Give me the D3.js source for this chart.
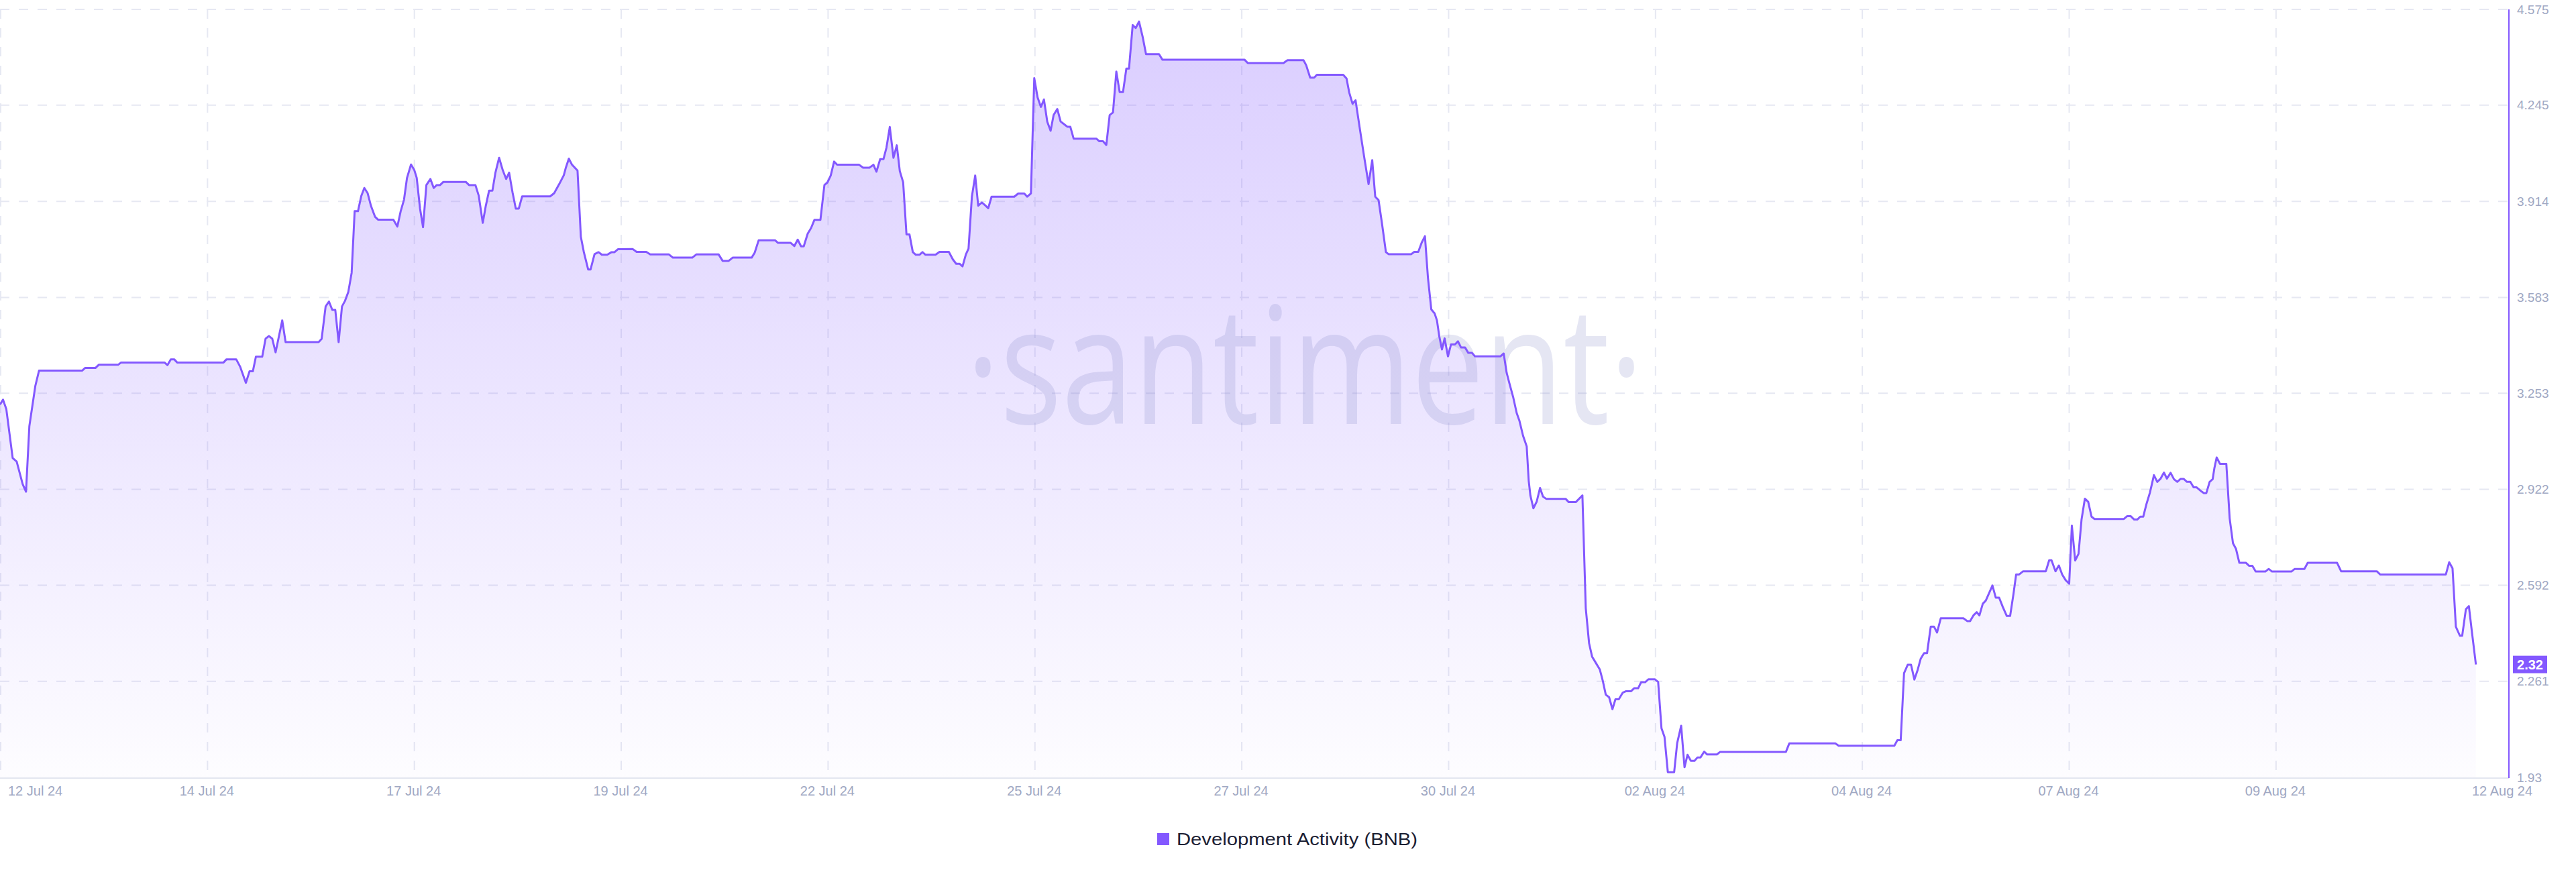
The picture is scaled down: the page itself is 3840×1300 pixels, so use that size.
<!DOCTYPE html>
<html><head><meta charset="utf-8">
<script src="https://cdn.jsdelivr.net/npm/d3@7"></script>
<style>body{margin:0;background:#fff;} svg{display:block}</style>
</head><body>
<svg id="c" width="3840" height="1300"></svg>
<script>
// [hours since 12 Jul 24 00:00, development activity]
const devActivity = [[0.0,3.214],[0.9,3.231],[1.9,3.198],[3.8,3.030],[5.0,3.018],[6.8,2.940],[7.8,2.914],[8.8,3.140],[10.6,3.279],[11.7,3.331],[24.6,3.331],[25.5,3.340],[28.6,3.340],[29.6,3.351],[35.4,3.351],[36.3,3.359],[49.3,3.359],[50.2,3.350],[51.2,3.370],[52.2,3.370],[53.1,3.359],[67.0,3.359],[67.9,3.370],[70.8,3.370],[72.0,3.344],[73.7,3.289],[74.8,3.329],[75.8,3.329],[76.7,3.379],[78.6,3.379],[79.6,3.441],[80.6,3.450],[81.6,3.441],[82.6,3.394],[84.6,3.504],[85.6,3.429],[95.5,3.429],[96.4,3.440],[97.6,3.552],[98.6,3.569],[99.6,3.540],[100.5,3.540],[101.5,3.429],[102.5,3.552],[103.4,3.571],[104.4,3.602],[105.4,3.668],[106.3,3.880],[107.3,3.880],[108.3,3.933],[109.2,3.960],[110.2,3.942],[111.2,3.898],[112.4,3.861],[113.3,3.851],[117.9,3.851],[119.1,3.827],[120.1,3.880],[121.1,3.920],[122.0,3.995],[123.2,4.041],[124.2,4.021],[124.9,3.995],[125.9,3.889],[126.8,3.825],[127.8,3.970],[129.0,3.991],[130.0,3.960],[130.9,3.970],[131.9,3.970],[132.9,3.981],[139.6,3.981],[140.6,3.970],[142.5,3.970],[143.5,3.933],[144.7,3.840],[145.6,3.898],[146.6,3.951],[147.6,3.951],[148.5,4.013],[149.6,4.064],[150.7,4.021],[151.7,3.991],[152.6,4.013],[153.6,3.946],[154.6,3.889],[155.5,3.889],[156.5,3.931],[164.9,3.931],[166.1,3.942],[167.6,3.973],[169.0,4.004],[169.6,4.030],[170.5,4.061],[171.4,4.041],[173.1,4.020],[174.1,3.792],[175.0,3.739],[176.3,3.679],[177.0,3.679],[178.2,3.732],[179.4,3.739],[180.4,3.730],[182.0,3.730],[183.3,3.739],[184.2,3.739],[185.2,3.749],[189.6,3.750],[190.8,3.740],[193.7,3.740],[194.9,3.731],[200.5,3.731],[201.7,3.720],[207.5,3.720],[208.7,3.731],[215.4,3.731],[216.6,3.709],[218.4,3.709],[219.6,3.720],[225.3,3.720],[226.2,3.737],[227.4,3.780],[232.3,3.780],[233.2,3.771],[237.0,3.771],[238.1,3.760],[239.1,3.782],[240.1,3.759],[240.9,3.759],[242.1,3.803],[243.1,3.822],[244.1,3.850],[245.9,3.850],[247.1,3.970],[248.0,3.979],[249.0,4.003],[250.0,4.051],[250.9,4.040],[257.5,4.040],[258.7,4.030],[260.6,4.030],[261.8,4.040],[262.7,4.016],[263.8,4.059],[264.8,4.059],[265.7,4.099],[266.7,4.170],[267.8,4.064],[268.8,4.107],[269.7,4.018],[270.7,3.980],[271.7,3.800],[272.6,3.800],[273.6,3.739],[274.5,3.730],[275.6,3.730],[276.5,3.739],[277.4,3.730],[280.4,3.730],[281.6,3.740],[284.4,3.740],[285.6,3.714],[286.6,3.699],[287.6,3.699],[288.5,3.690],[289.5,3.731],[290.3,3.751],[291.3,3.930],[292.3,4.003],[293.2,3.899],[294.3,3.910],[295.3,3.900],[296.2,3.890],[297.2,3.930],[304.0,3.930],[305.2,3.941],[307.0,3.941],[307.9,3.930],[309.0,3.941],[310.0,4.338],[311.0,4.272],[312.0,4.239],[312.9,4.265],[313.9,4.188],[314.9,4.157],[315.8,4.211],[316.9,4.232],[317.9,4.189],[318.9,4.180],[319.9,4.171],[320.8,4.171],[321.8,4.130],[328.6,4.130],[329.5,4.121],[330.6,4.121],[331.6,4.108],[332.6,4.211],[333.6,4.220],[334.6,4.361],[335.6,4.290],[336.6,4.290],[337.6,4.371],[338.4,4.371],[339.5,4.521],[340.4,4.511],[341.4,4.533],[342.5,4.480],[343.5,4.421],[347.4,4.421],[348.4,4.402],[373.0,4.402],[374.0,4.390],[384.7,4.390],[385.9,4.400],[390.7,4.400],[391.5,4.383],[392.7,4.340],[393.9,4.340],[394.7,4.350],[402.6,4.350],[403.6,4.337],[404.4,4.289],[405.4,4.250],[406.3,4.262],[407.6,4.163],[408.8,4.073],[410.2,3.973],[411.3,4.056],[412.2,3.930],[413.2,3.918],[414.2,3.840],[415.4,3.739],[416.2,3.732],[423.0,3.732],[423.9,3.740],[425.1,3.740],[426.1,3.771],[427.1,3.794],[428.0,3.651],[429.0,3.542],[430.0,3.528],[430.7,3.504],[431.4,3.449],[432.2,3.404],[433.0,3.442],[434.0,3.380],[434.9,3.421],[436.1,3.421],[437.0,3.432],[437.9,3.411],[439.1,3.411],[440.1,3.392],[441.2,3.392],[442.1,3.380],[449.7,3.380],[450.7,3.390],[451.6,3.323],[452.4,3.288],[453.6,3.237],[454.6,3.185],[455.4,3.159],[456.5,3.107],[457.6,3.070],[458.2,2.952],[458.7,2.901],[459.6,2.857],[460.6,2.880],[461.6,2.927],[462.5,2.897],[463.5,2.889],[469.3,2.889],[470.2,2.878],[472.3,2.878],[474.3,2.901],[475.3,2.513],[476.3,2.392],[477.2,2.346],[478.4,2.323],[479.5,2.302],[480.4,2.263],[481.3,2.215],[482.3,2.206],[483.3,2.165],[484.2,2.199],[485.2,2.199],[486.4,2.222],[487.4,2.227],[488.9,2.227],[489.8,2.237],[491.0,2.237],[491.9,2.258],[493.1,2.258],[494.1,2.268],[496.0,2.268],[497.0,2.259],[498.0,2.099],[498.9,2.070],[499.9,1.948],[501.8,1.948],[502.7,2.048],[503.9,2.108],[504.9,1.965],[505.8,2.008],[506.8,1.987],[507.9,1.987],[508.8,1.999],[509.7,1.999],[510.8,2.019],[511.7,2.009],[514.6,2.009],[515.6,2.018],[535.3,2.018],[536.3,2.047],[550.1,2.047],[551.1,2.039],[567.8,2.039],[568.7,2.058],[569.7,2.058],[570.7,2.289],[571.8,2.318],[572.8,2.318],[573.8,2.267],[574.8,2.301],[575.7,2.339],[576.7,2.358],[577.6,2.358],[578.7,2.449],[579.7,2.449],[580.6,2.429],[581.7,2.478],[588.5,2.478],[589.7,2.468],[590.5,2.468],[591.5,2.488],[592.5,2.499],[593.3,2.488],[594.3,2.528],[595.2,2.539],[596.4,2.570],[597.2,2.591],[598.2,2.549],[599.2,2.549],[600.3,2.517],[601.5,2.486],[602.5,2.486],[603.5,2.562],[604.3,2.629],[605.2,2.629],[606.4,2.640],[613.2,2.640],[614.2,2.678],[614.9,2.678],[616.1,2.640],[617.1,2.660],[618.1,2.629],[619.1,2.610],[620.2,2.597],[621.0,2.797],[622.0,2.677],[623.0,2.700],[623.9,2.818],[624.9,2.890],[625.9,2.879],[626.9,2.828],[627.8,2.820],[636.6,2.820],[637.6,2.830],[638.6,2.830],[639.7,2.818],[640.6,2.818],[641.5,2.828],[642.4,2.828],[643.3,2.869],[644.4,2.911],[645.6,2.971],[646.6,2.948],[647.6,2.959],[648.6,2.980],[649.5,2.959],[650.6,2.979],[651.6,2.957],[652.6,2.948],[653.6,2.958],[654.5,2.958],[655.5,2.948],[656.5,2.948],[657.5,2.929],[658.4,2.929],[659.6,2.917],[660.6,2.909],[661.3,2.909],[662.3,2.948],[663.2,2.957],[663.7,2.994],[664.4,3.032],[665.4,3.010],[667.3,3.010],[668.3,2.822],[669.3,2.736],[670.2,2.717],[671.2,2.669],[673.2,2.669],[674.1,2.659],[675.1,2.659],[676.1,2.639],[679.0,2.639],[680.0,2.648],[681.0,2.639],[686.8,2.639],[687.8,2.648],[690.7,2.648],[691.7,2.669],[700.5,2.669],[701.7,2.640],[712.4,2.640],[713.4,2.629],[733.1,2.629],[734.1,2.671],[735.1,2.650],[736.1,2.449],[737.3,2.418],[738.0,2.418],[739.1,2.509],[740.0,2.520],[740.9,2.432],[742.1,2.319]];

const yTicks = [4.575, 4.245, 3.914, 3.583, 3.253, 2.922, 2.592, 2.261, 1.93];
const xTickLabels = ["12 Jul 24","14 Jul 24","17 Jul 24","19 Jul 24","22 Jul 24","25 Jul 24","27 Jul 24","30 Jul 24","02 Aug 24","04 Aug 24","07 Aug 24","09 Aug 24","12 Aug 24"];
const xTickHours = [0, 62, 124, 186, 248, 310, 372, 434, 496, 558, 620, 682, 750];
const seriesName = "Development Activity (BNB)";

const purple = "#8358ff";
const axisText = "#a0a8c3";
const gridCol = "#e6e8f2";

const svg = d3.select("#c");
const plot = {left: 0, right: 3740, top: 14, bottom: 1159};
const x = d3.scaleLinear().domain([0, 752]).range([plot.left, plot.right]);
const y = d3.scaleLinear().domain([1.93, 4.575]).range([plot.bottom, plot.top]);

const defs = svg.append("defs");
const grad = defs.append("linearGradient").attr("id","fillGrad")
  .attr("gradientUnits","userSpaceOnUse").attr("x1",0).attr("x2",0)
  .attr("y1",plot.top).attr("y2",plot.bottom);
grad.append("stop").attr("offset","0").attr("stop-color",purple).attr("stop-opacity",0.3);
grad.append("stop").attr("offset","1").attr("stop-color",purple).attr("stop-opacity",0.015);

// grid
const grid = svg.append("g");
grid.selectAll("line.h").data(yTicks.filter(v => v !== 1.93)).join("line")
  .attr("x1", plot.left).attr("x2", plot.right)
  .attr("y1", d => y(d)).attr("y2", d => y(d))
  .attr("stroke", gridCol).attr("stroke-width", 2).attr("stroke-dasharray","14 14");
grid.selectAll("line.v").data(xTickHours.slice(0, 12)).join("line")
  .attr("x1", d => x(d) + 1).attr("x2", d => x(d) + 1)
  .attr("y1", plot.top).attr("y2", plot.bottom)
  .attr("stroke", gridCol).attr("stroke-width", 2).attr("stroke-dasharray","14 14");

// area
const area = d3.area().x(d => x(d[0])).y0(plot.bottom).y1(d => y(d[1]));
svg.append("path").datum(devActivity).attr("d", area).attr("fill","url(#fillGrad)");

// watermark
svg.append("text").attr("x", 1440).attr("y", 632)
  .attr("font-family","'Open Sans', sans-serif").attr("font-size", 243)
  .attr("textLength", 1010).attr("lengthAdjust","spacingAndGlyphs")
  .attr("fill","rgb(125,130,195)").attr("fill-opacity",0.2)
  .text("\u00B7santiment\u00B7");

// line
const line = d3.line().x(d => x(d[0])).y(d => y(d[1]));
svg.append("path").datum(devActivity).attr("d", line)
  .attr("fill","none").attr("stroke", purple).attr("stroke-width", 3)
  .attr("stroke-linejoin","round");

// x axis line
svg.append("line").attr("x1",plot.left).attr("x2",plot.right)
  .attr("y1",plot.bottom + 1).attr("y2",plot.bottom + 1)
  .attr("stroke","#e3e6f0").attr("stroke-width",2);
// right axis
svg.append("line").attr("x1",plot.right).attr("x2",plot.right)
  .attr("y1",plot.top).attr("y2",plot.bottom + 1)
  .attr("stroke",purple).attr("stroke-width",2);

// y labels
svg.append("g").selectAll("text").data(yTicks).join("text")
  .attr("x", plot.right + 12).attr("y", d => y(d))
  .attr("dominant-baseline","central")
  .attr("font-family","'Liberation Sans', Arial, sans-serif").attr("font-size",19)
  .attr("fill", axisText)
  .text(d => String(d));

// x labels
svg.append("g").selectAll("text").data(xTickLabels).join("text")
  .attr("x", (d, i) => i === 0 ? x(xTickHours[i]) + 12 : x(xTickHours[i]))
  .attr("y", 1186)
  .attr("text-anchor", (d, i) => i === 0 ? "start" : "middle")
  .attr("font-family","'Liberation Sans', Arial, sans-serif").attr("font-size",20)
  .attr("fill", axisText)
  .text(d => d);

// last value badge
const last = devActivity[devActivity.length - 1];
const badge = svg.append("g");
badge.append("rect").attr("x", plot.right + 6).attr("y", y(last[1]) - 13)
  .attr("width", 51).attr("height", 26).attr("fill", purple);
badge.append("text").attr("x", plot.right + 6 + 25.5).attr("y", y(last[1]))
  .attr("text-anchor","middle").attr("dominant-baseline","central")
  .attr("font-family","'Liberation Sans', Arial, sans-serif").attr("font-size",20)
  .attr("font-weight","bold").attr("fill","#fff")
  .text(d3.format(".2f")(last[1]));

// legend
const lg = svg.append("g");
lg.append("rect").attr("x",1725).attr("y",1242).attr("width",18).attr("height",18).attr("fill",purple);
lg.append("text").attr("x",1754).attr("y",1260)
  .attr("font-family","'Liberation Sans', Arial, sans-serif").attr("font-size",25)
  .attr("textLength", 359).attr("lengthAdjust","spacingAndGlyphs")
  .attr("fill","#1b2033").text(seriesName);
</script>
</body></html>
